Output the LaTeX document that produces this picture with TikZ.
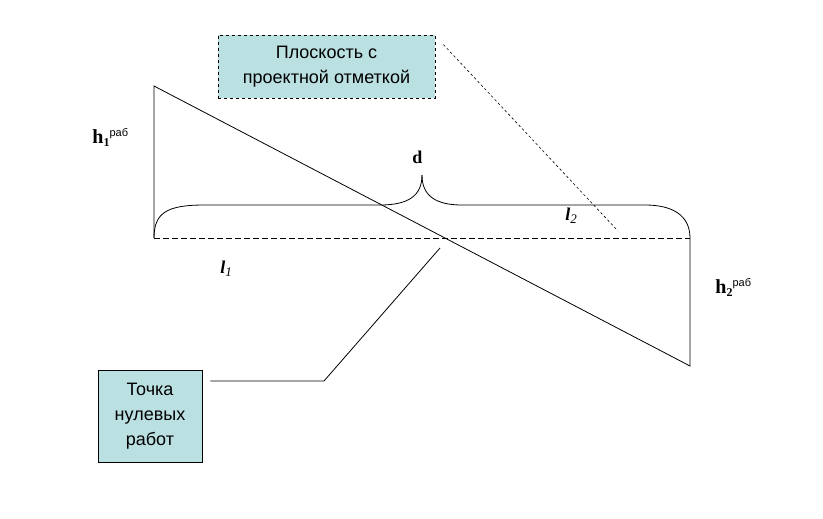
\documentclass[tikz,border=0pt]{standalone}
\usepackage{fontspec}
\setmainfont{Liberation Serif}
\newfontfamily\boxfont{Liberation Sans}
\usetikzlibrary{calc}
\definecolor{boxteal}{RGB}{187,224,226}
\tikzset{
  notebox/.style={draw, fill=boxteal, align=center, inner sep=0pt,
    font=\boxfont\fontsize{18}{25}\selectfont},
  sizelabel/.style={anchor=base west, inner sep=0pt, font=\fontsize{18}{18}\selectfont\bfseries}
}
\newcommand{\hrab}[1]{{\fontsize{20}{20}\selectfont h}\raisebox{-3pt}{\fontsize{12}{12}\selectfont #1}\raisebox{7pt}{\boxfont\mdseries\fontsize{11}{11}\selectfont раб}}
\newcommand{\lsub}[1]{\textit{l}\raisebox{-3pt}{\mdseries\itshape\fontsize{13}{13}\selectfont #1}}

\begin{document}
\begin{tikzpicture}[x=1pt, y=-1pt, line width=0.8pt]
			\useasboundingbox (0,0) rectangle (823,519);
			%%%%% START %%%%%
			
			\coordinate (topL) at (154,86);
			\coordinate (baseL) at (154,238);
			\coordinate (baseR) at (690,238);
			\coordinate (botR) at (690,366);
			\coordinate (cusp) at (422,175);
			\coordinate (zero) at (440,248);
			\coordinate (kink) at (324,381);
			\coordinate (planeEnd) at (618,231);
			
			% section
			\draw (baseL) -- (topL) -- (botR) -- (baseR);
			\draw[dashed, dash pattern=on 6pt off 3pt] (baseL) -- (baseR);
			
			% brace
			\draw (baseL) .. controls (154,212) and (168,205) .. (205,205) -- (380,205)
			      .. controls (408,205) and (422,196) .. (cusp);
			\draw (cusp) .. controls (422,196) and (436,205) .. (462,205) -- (645,205)
			      .. controls (672,205) and (690,215) .. (baseR);
			
			% labels
			\node[sizelabel] (hone) at (92,143) {\hrab{1}};
			\node[sizelabel] (htwo) at (715,293) {\hrab{2}};
			\node[sizelabel] (dlab) at (412,164) {d};
			\node[sizelabel] (lone) at (220,273) {\lsub{1}};
			\node[sizelabel] (ltwo) at (565,220) {\lsub{2}};
			
			% callouts
			\node[notebox, dashed, minimum width=217, minimum height=63] (plane) at (326.5,66.5)
			      {Плоскость с\\проектной отметкой};
			\draw[dash pattern=on 2.5pt off 2.5pt, line width=0.6pt] ($(plane.north east)+(8,10)$) -- (planeEnd);
			
			\node[notebox, minimum width=104, minimum height=92] (point) at (150,416)
			      {Точка\\нулевых\\работ};
			\draw ($(point.east |- kink)+(8,0)$) -- (kink) -- (zero);
			
			%%%%% END %%%%%
		\end{tikzpicture}
\end{document}
